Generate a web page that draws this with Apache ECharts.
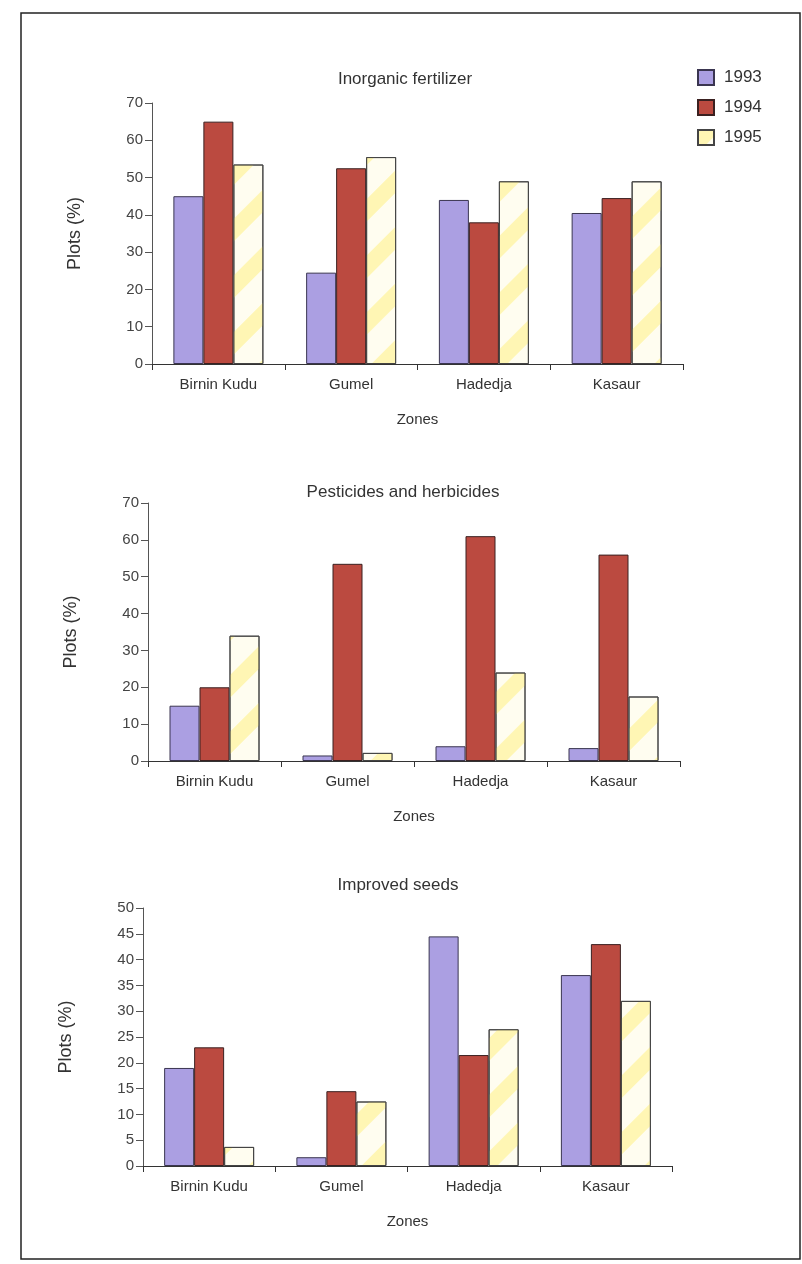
<!DOCTYPE html>
<html>
<head>
<meta charset="utf-8">
<script src="https://cdn.jsdelivr.net/npm/echarts@6/dist/echarts.min.js"></script>
<style>
html,body{margin:0;padding:0;background:#fff;}
#c{width:802px;height:1264px;}
</style>
</head>
<body>
<div id="c"></div>
<script>
const categories = ['Birnin Kudu', 'Gumel', 'Hadedja', 'Kasaur'];
const years = ['1993', '1994', '1995'];
const chartTitles = ['Inorganic fertilizer', 'Pesticides and herbicides', 'Improved seeds'];

const fert1993 = [45, 24.5, 44, 40.5];
const fert1994 = [65, 52.5, 38, 44.5];
const fert1995 = [53.5, 55.5, 49, 49];

const pest1993 = [15, 1.5, 4, 3.5];
const pest1994 = [20, 53.5, 61, 56];
const pest1995 = [34, 2.2, 24, 17.5];

const seed1993 = [19, 1.7, 44.5, 37];
const seed1994 = [23, 14.5, 21.5, 43];
const seed1995 = [3.7, 12.5, 26.5, 32];

const yMax = [70, 70, 50];
const yInterval = [10, 10, 5];

const FONT = '"Liberation Sans", Arial, sans-serif';
const panels = [
  { left: 152, right: 119, top: 103, height: 261, titleTop: 66, titleX: 400 },
  { left: 148, right: 122, top: 503, height: 258, titleTop: 479, titleX: 398 },
  { left: 143, right: 130, top: 908, height: 258, titleTop: 872, titleX: 393 }
];
const seriesData = [
  [fert1993, fert1994, fert1995],
  [pest1993, pest1994, pest1995],
  [seed1993, seed1994, seed1995]
];

const styles = [
  { color: '#ab9fe2', borderColor: '#3a3550' },
  { color: '#bb4a40', borderColor: '#3a2020' },
  { color: '#fffdf0', borderColor: '#444',
    decal: { symbol: 'rect', symbolSize: 1, dashArrayX: [[1, 0]], dashArrayY: [16, 24],
             rotation: -Math.PI / 4, color: 'rgba(255,240,120,0.5)' } }
];

const chart = echarts.init(document.getElementById('c'));
const grid = [], xAxis = [], yAxis = [], series = [], title = [];
panels.forEach((p, i) => {
  grid.push({ left: p.left, right: p.right, top: p.top, height: p.height });
  title.push({ text: chartTitles[i], left: p.titleX, top: p.titleTop, textAlign: 'center',
    textStyle: { fontFamily: FONT, fontSize: 17, fontWeight: 'normal', color: '#333' } });
  xAxis.push({
    type: 'category', gridIndex: i, data: categories,
    name: 'Zones', nameLocation: 'middle', nameGap: 48,
    nameTextStyle: { fontFamily: FONT, fontSize: 15, color: '#333' },
    axisLine: { lineStyle: { color: '#333', width: 1.2 } },
    axisTick: { show: true, length: 6, lineStyle: { color: '#333' } },
    axisLabel: { fontFamily: FONT, fontSize: 15, color: '#333', margin: 13 }
  });
  yAxis.push({
    type: 'value', gridIndex: i, min: 0, max: yMax[i], interval: yInterval[i],
    name: 'Plots (%)', nameLocation: 'middle', nameGap: 68,
    nameTextStyle: { fontFamily: FONT, fontSize: 18, color: '#333' },
    axisLine: { show: true, lineStyle: { color: '#555', width: 1 } },
    axisTick: { show: true, length: 7, lineStyle: { color: '#555' } },
    axisLabel: { fontFamily: FONT, fontSize: 15, color: '#444', margin: 9 },
    splitLine: { show: false }
  });
  years.forEach((y, k) => {
    series.push({
      name: y, type: 'bar', xAxisIndex: i, yAxisIndex: i,
      data: seriesData[i][k], barWidth: 30, barGap: '0%',
      itemStyle: Object.assign({ borderWidth: 1 }, styles[k]),
      emphasis: { disabled: true }
    });
  });
});

chart.setOption({
  animation: false,
  backgroundColor: '#fff',
  title: title,
  legend: {
    data: years, orient: 'vertical', left: 692, top: 64, icon: 'rect',
    itemWidth: 16, itemHeight: 15, itemGap: 13,
    textStyle: { fontFamily: FONT, fontSize: 17, color: '#333', padding: [0, 0, 0, 5] }
  },
  grid: grid, xAxis: xAxis, yAxis: yAxis, series: series,
  graphic: [{
    type: 'rect', shape: { x: 21, y: 13, width: 779, height: 1246 },
    style: { fill: 'none', stroke: '#222', lineWidth: 1.5 }, silent: true
  }]
});
</script>
</body>
</html>
